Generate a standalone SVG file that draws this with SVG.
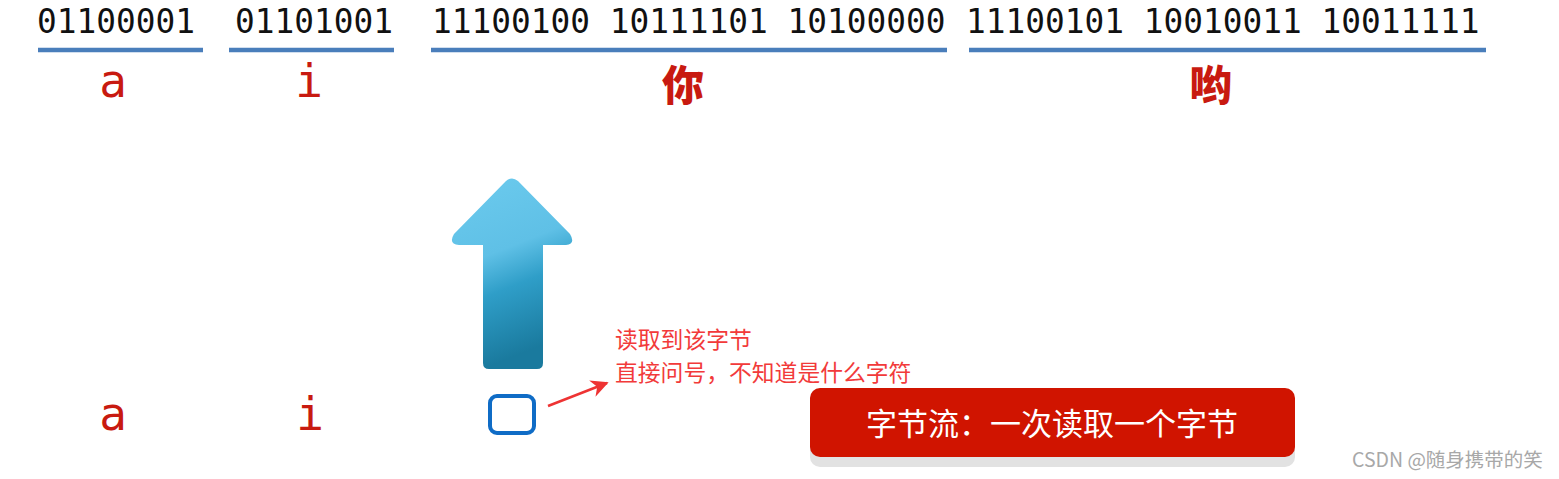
<svg xmlns="http://www.w3.org/2000/svg" width="1559" height="479" viewBox="0 0 1559 479">
<style>
.bin{font-family:"DejaVu Sans Mono","Liberation Mono",monospace;font-size:32.8px;fill:#111}
.ln{stroke:#4a7ebb;stroke-width:4.5}
.ch{font-family:"DejaVu Sans Mono","Liberation Mono",monospace;font-size:46px;fill:#c81a10;text-anchor:middle}
.cjk{font-family:"Noto Sans CJK SC",sans-serif;font-weight:900;font-size:42px;fill:#c81a10;text-anchor:middle}
.note{font-family:"Noto Sans CJK SC",sans-serif;font-size:22.8px;fill:#f23a3a}
</style>
<defs>
<linearGradient id="ag" x1="0" y1="0" x2="0.25" y2="1">
<stop offset="0" stop-color="#6ccbee"/>
<stop offset="0.45" stop-color="#5fc0e6"/>
<stop offset="0.65" stop-color="#2f9ec8"/>
<stop offset="1" stop-color="#1a7a9e"/>
</linearGradient>
<marker id="rh" viewBox="0 0 10 10" refX="9" refY="5" markerWidth="7" markerHeight="7" orient="auto" markerUnits="strokeWidth">
<path d="M0,0 L10,5 L0,10 L3,5 Z" fill="#ee3333"/>
</marker>
</defs>
<g id="bytes">
<text class="bin" x="37" y="33">01100001</text>
<text class="bin" x="235" y="33">01101001</text>
<text class="bin" x="432" y="33">11100100 10111101 10100000</text>
<text class="bin" x="966" y="33">11100101 10010011 10011111</text>
<line class="ln" x1="38" y1="50" x2="203" y2="50"/>
<line class="ln" x1="229" y1="50" x2="394" y2="50"/>
<line class="ln" x1="431" y1="50" x2="947" y2="50"/>
<line class="ln" x1="969" y1="50" x2="1486" y2="50"/>
</g>
<g id="chars">
<text class="ch" x="113" y="97">a</text>
<text class="ch" x="309" y="97">i</text>
<text class="cjk" x="683" y="101">你</text>
<text class="cjk" x="1211" y="101">哟</text>
</g>
<g id="up-arrow">
<path d="M506,181 Q512,176 518,181 L570,234 Q576,244 566,245 L543,245 L543,363 Q543,369 537,369 L489,369 Q483,369 483,363 L483,245 L459,245 Q448,244 454,234 Z" fill="url(#ag)"/>
</g>
<g id="result">
<text class="ch" x="113" y="430">a</text>
<text class="ch" x="310" y="430">i</text>
<rect x="490" y="396" width="44" height="37" rx="7" fill="#fff" stroke="#0f6cc6" stroke-width="4"/>
</g>
<g id="connectors">
<line x1="548" y1="406" x2="607" y2="383" stroke="#ee3333" stroke-width="2.5" marker-end="url(#rh)"/>
</g>
<g id="note">
<text class="note" x="615" y="348">读取到该字节</text>
<text class="note" x="615" y="381">直接问号，不知道是什么字符</text>
</g>
<g id="button">
<rect x="810" y="398" width="485" height="69" rx="10" fill="#e2e2e2"/>
<rect x="810" y="388" width="485" height="69" rx="10" fill="#d01400"/>
<text x="1052" y="435" font-family="Noto Sans CJK SC,sans-serif" font-size="31" fill="#fff" text-anchor="middle">字节流：一次读取一个字节</text>
</g>
<text x="1352" y="467" font-family="Noto Sans CJK SC,sans-serif" font-size="19.5" fill="#a8a8a8">CSDN @随身携带的笑</text>
</svg>
